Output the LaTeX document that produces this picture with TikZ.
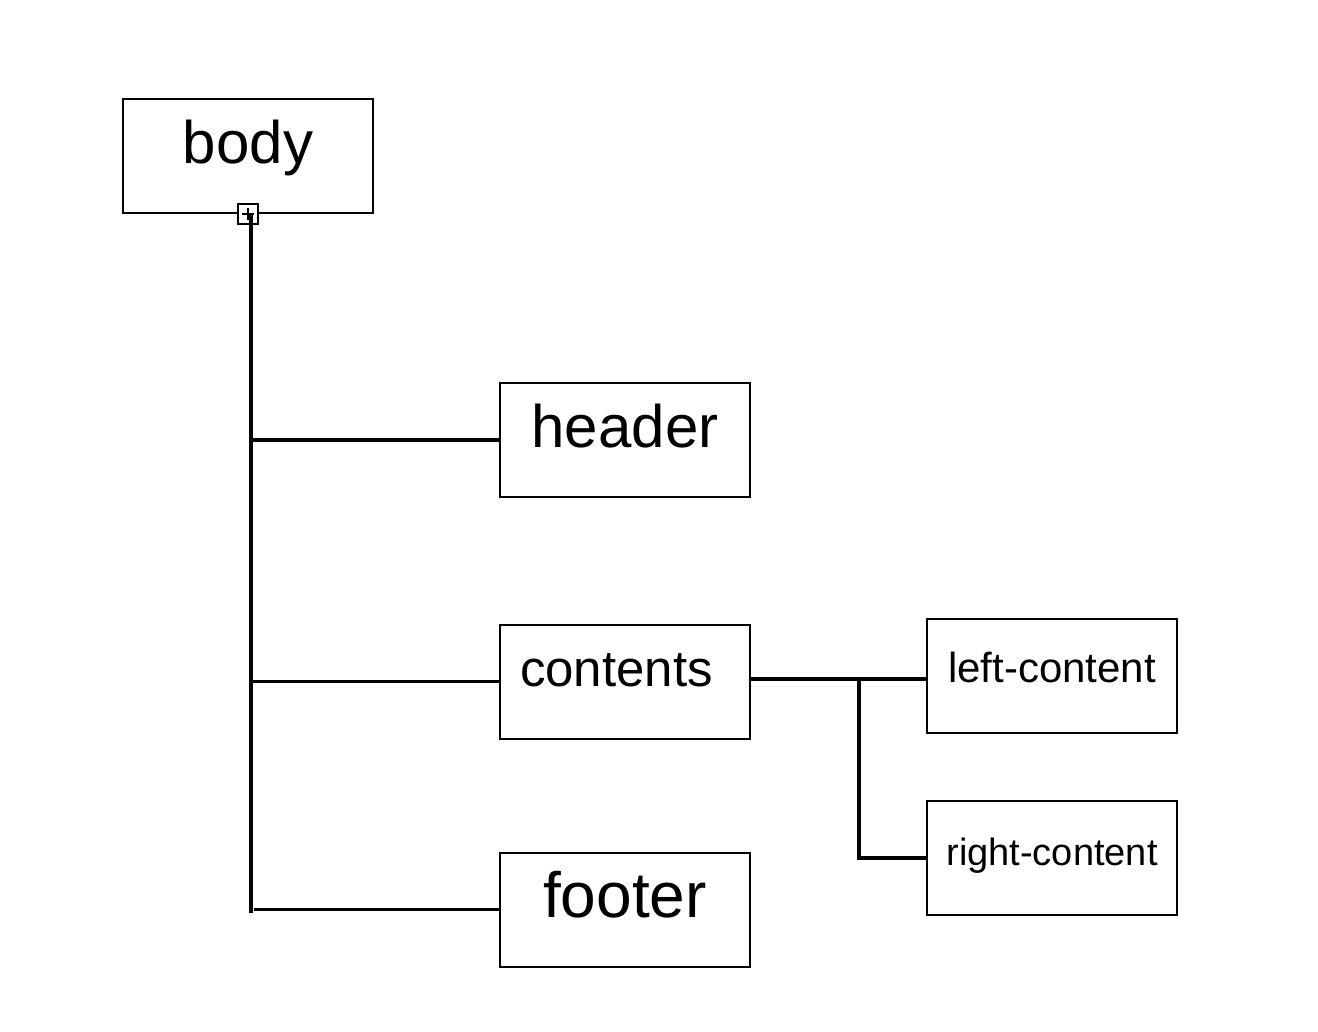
\documentclass[tikz,border=0pt]{standalone}
\usepackage{fontspec}
\setmainfont{Liberation Sans}
\usetikzlibrary{positioning}

\tikzset{
	box/.style = {draw, line width = 2pt, minimum width = 250pt, minimum height = 114pt,
		inner sep = 0pt, text depth = 0pt},
	big/.style = {font = \fontsize{60}{72}\selectfont, text height = 15pt},
	mid/.style = {font = \fontsize{51}{60}\selectfont, text height = 9pt},
	small/.style = {font = \fontsize{42}{50}\selectfont, text height = 12pt},
	link/.style = {line width = 3.8pt}
}

\begin{document}
\begin{tikzpicture}[x = 1pt, y = -1pt]

	\useasboundingbox (0, 0) rectangle (1318, 1032);

	% The boxes

	\node [box, big] (body) at (248, 156) {body};
	\node [box, big] (header) at (625, 440) {header};
	\node [box, mid] (contents) at (625, 681.5) {\hspace*{-17pt}contents};
	\node [box, big, font = \fontsize{64}{76}\selectfont] (footer) at (625, 909.5) {footer};
	\node [box, small] (left) at (1052, 676) {left-content};
	\node [box, small, font = \fontsize{38}{46}\selectfont, text height = 14pt] (right) at (1052, 858) {right-content};

	% Collapse marker under body

	\node [draw, fill = white, line width = 1.2pt, minimum size = 20pt, inner sep = 0pt] (marker) at (body.south) {};
	\draw [line width = 1.2pt] ([xshift = -6pt] marker.center) -- ([xshift = 6pt] marker.center)
		([yshift = -6pt] marker.center) -- ([yshift = 6pt] marker.center);

	% Tree from body

	\begin{scope}[link]

		\coordinate (trunk) at ([xshift = 3pt] marker.center);
		\coordinate (end) at (trunk |- footer.west);
		\draw (trunk) -- ([yshift = -3pt] end);
		\draw (trunk |- header.west) -- (header.west);
		\draw (trunk |- contents.west) -- (contents.west);
		\draw ([xshift = 3pt] end) -- (footer.west);

	\end{scope}

	% Tree from contents

	\begin{scope}[link]

		\coordinate (fork) at (859, 679);
		\draw (contents.east |- fork) -- (left.west |- fork);
		\draw (fork) |- (right.west);

	\end{scope}

\end{tikzpicture}
\end{document}
